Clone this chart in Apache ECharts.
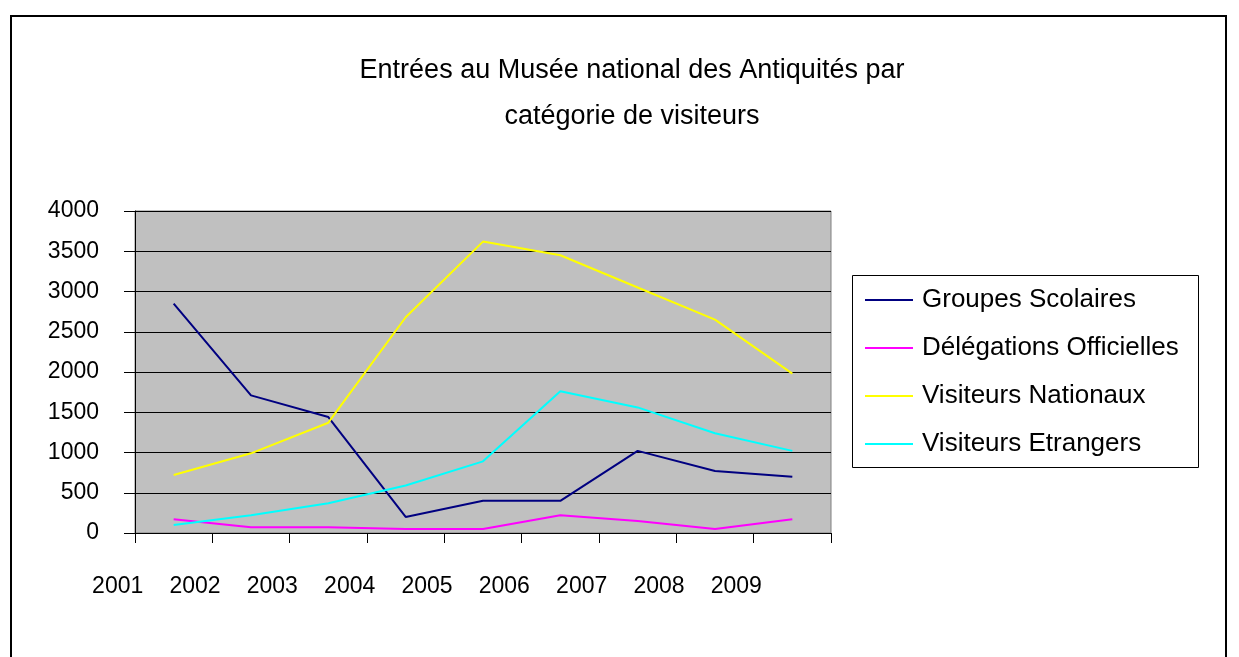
<!DOCTYPE html>
<html>
<head>
<meta charset="utf-8">
<script src="https://cdn.jsdelivr.net/npm/echarts@6/dist/echarts.min.js"></script>
<style>
  html, body { margin: 0; padding: 0; background: #fff; }
  #chart { width: 1239px; height: 657px; }
</style>
</head>
<body>
<div id="chart"></div>
<script>
  const years = ['2001', '2002', '2003', '2004', '2005', '2006', '2007', '2008', '2009']
  const groupesScolaires = [2850, 1710, 1440, 200, 400, 400, 1020, 770, 700]
  const delegationsOfficielles = [170, 70, 70, 50, 50, 220, 150, 50, 170]
  const visiteursNationaux = [720, 990, 1370, 2680, 3620, 3450, 3050, 2650, 1980]
  const visiteursEtrangers = [100, 220, 370, 590, 890, 1760, 1560, 1240, 1020]
  const seriesNames = ['Groupes Scolaires', 'Délégations Officielles', 'Visiteurs Nationaux', 'Visiteurs Etrangers']
  const seriesColors = ['#000080', '#FF00FF', '#FFFF00', '#00FFFF']

  const FONT = 'Arial, "Liberation Sans", sans-serif'

  const myChart = echarts.init(document.getElementById('chart'))

  function lineSeries(name, data, color) {
    return {
      name: name,
      type: 'line',
      symbol: 'none',
      smooth: false,
      lineStyle: { width: 2, color: color },
      itemStyle: { color: color },
      data: data
    }
  }

  myChart.setOption({
    animation: false,
    backgroundColor: '#fff',
    color: seriesColors,
    graphic: [
      // cadre extérieur
      {
        type: 'polyline',
        shape: { points: [[11, 700], [11, 16], [1226, 16], [1226, 700]] },
        style: { stroke: '#000', lineWidth: 2, fill: null }
      },
      // cadre de la légende
      {
        type: 'rect',
        shape: { x: 852.5, y: 275.5, width: 346, height: 192 },
        style: { stroke: '#000', lineWidth: 1, fill: '#fff' },
        z: -1
      },
      {
        type: 'text',
        x: 632,
        y: 71,
        style: {
          text: 'Entrées au Musée national des Antiquités par',
          font: '27px ' + FONT,
          fill: '#000',
          align: 'center',
          verticalAlign: 'middle'
        }
      },
      {
        type: 'text',
        x: 632,
        y: 117,
        style: {
          text: 'catégorie de visiteurs',
          font: '27px ' + FONT,
          fill: '#000',
          align: 'center',
          verticalAlign: 'middle'
        }
      }
    ],
    legend: {
      orient: 'vertical',
      left: 865,
      top: 287,
      padding: 0,
      itemWidth: 48,
      itemHeight: 2,
      itemGap: 22,
      icon: 'rect',
      data: seriesNames,
      textStyle: {
        fontFamily: FONT,
        fontSize: 26,
        color: '#000',
        padding: [0, 0, 0, 4]
      }
    },
    grid: {
      left: 135,
      top: 211,
      right: 408,
      bottom: 124,
      show: true,
      backgroundColor: '#C0C0C0',
      borderColor: '#808080',
      borderWidth: 1
    },
    xAxis: {
      type: 'category',
      boundaryGap: true,
      data: years,
      axisLine: { show: true, lineStyle: { color: '#000', width: 1 } },
      axisTick: { show: true, length: 10, inside: false, alignWithLabel: false, lineStyle: { color: '#000' } },
      axisLabel: {
        interval: 0,
        fontFamily: FONT,
        fontSize: 23,
        color: '#000',
        margin: 42,
        align: 'center',
        padding: [0, 112, 0, 0]
      },
      splitLine: { show: false }
    },
    yAxis: {
      type: 'value',
      min: 0,
      max: 4000,
      interval: 500,
      axisLine: { show: true, lineStyle: { color: '#000', width: 1 } },
      axisTick: { show: true, length: 11, inside: false, lineStyle: { color: '#000' } },
      axisLabel: {
        fontFamily: FONT,
        fontSize: 23,
        color: '#000',
        margin: 36,
        formatter: function (v) { return String(v) }
      },
      splitLine: { show: true, lineStyle: { color: '#000', width: 1 } }
    },
    series: [
      lineSeries(seriesNames[0], groupesScolaires, seriesColors[0]),
      lineSeries(seriesNames[1], delegationsOfficielles, seriesColors[1]),
      lineSeries(seriesNames[2], visiteursNationaux, seriesColors[2]),
      lineSeries(seriesNames[3], visiteursEtrangers, seriesColors[3])
    ]
  })

  window.addEventListener('resize', function () {
    myChart.resize()
  })
</script>
</body>
</html>
